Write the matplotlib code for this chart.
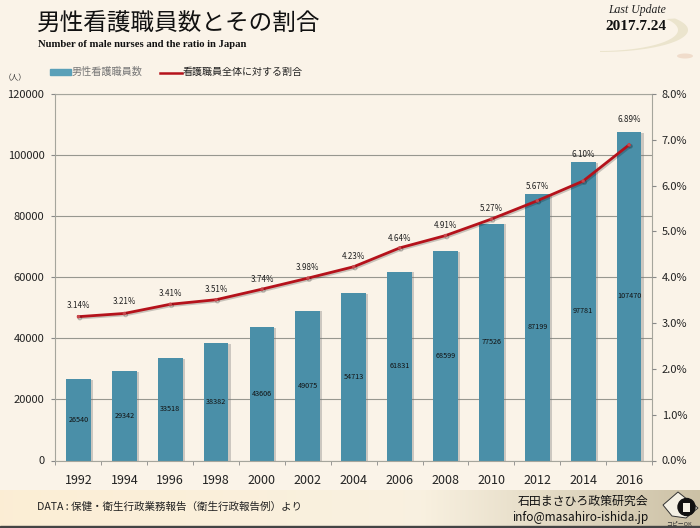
import numpy as np
import matplotlib
matplotlib.use("Agg")
import matplotlib.pyplot as plt
import matplotlib.patheffects as pe
from matplotlib.patches import Ellipse, Circle, Polygon, Rectangle

plt.rcParams['font.family'] = ['Noto Sans CJK JP', 'DejaVu Sans']

years = ["1992", "1994", "1996", "1998", "2000", "2002", "2004",
         "2006", "2008", "2010", "2012", "2014", "2016"]
nurses = [26540, 29342, 33518, 38382, 43606, 49075, 54713,
          61831, 68599, 77526, 87199, 97781, 107470]
ratio = [3.14, 3.21, 3.41, 3.51, 3.74, 3.98, 4.23,
         4.64, 4.91, 5.27, 5.67, 6.10, 6.89]
# how far each % label sits above the line, in points
label_lift = [8, 8.5, 7.5, 7.5, 7, 7.5, 7.5, 7, 7.5, 7.5, 10.5, 19, 18]

W, H = 700, 528
fig = plt.figure(figsize=(W / 100, H / 100), dpi=100, facecolor="#faf3e8")

# background, footer and swoosh are drawn in pixel coordinates
bg = fig.add_axes([0, 0, 1, 1], zorder=0)
grad = np.ones((1, 256, 3))
left_col = np.array([0.988, 0.933, 0.835])
mid_col = np.array([0.976, 0.945, 0.880])
right_col = np.array([0.800, 0.757, 0.650])
t = np.linspace(0, 1, 256)
for i in range(3):
    grad[0, :, i] = np.interp(t, [0, 0.6, 1], [left_col[i], mid_col[i], right_col[i]])
bg.imshow(grad, extent=[0, W, 526, 490], aspect="auto", zorder=1)
bg.set_xlim(0, W)
bg.set_ylim(H, 0)
bg.axis("off")
bg.add_patch(Rectangle((0, 526), W, 2, color="#444444", zorder=2))

# swoosh under the date
sw = np.linspace(-0.55, np.pi / 2, 60)
outer = np.c_[600 + 88 * np.cos(sw), 30 + 22 * np.sin(sw)]
inner = np.c_[600 + 78 * np.cos(sw), 30 + 21 * np.sin(sw)]
bg.add_patch(Polygon(np.r_[outer, inner[::-1]], color="#ebe4cd", lw=0, zorder=2))
bg.add_patch(Ellipse((685, 56), 16, 5, color="#f0dccb", lw=0, zorder=2))

# copy-ok logo
bg.add_patch(Polygon([[663, 505], [678, 492], [698, 508], [686, 518], [672, 516]],
                     facecolor="#f4f0e4", edgecolor="#333333", lw=0.7, zorder=3))
bg.add_patch(Circle((686.5, 507), 8.5, color="#111111", zorder=4))
bg.add_patch(Rectangle((683, 502.5), 7, 9, facecolor="#f4f0e4", edgecolor="none", zorder=5))
bg.text(679, 524, "コピーOK", fontsize=4.2, color="#333333", ha="center", va="center", zorder=5)

ax = fig.add_axes([55.5 / W, 1 - 460.5 / H, 596.5 / W, 366.5 / H], zorder=2)
ax.patch.set_alpha(0)
x = np.arange(len(years))
bars = ax.bar(x, nurses, width=0.54, color="#4a8fa8", zorder=2)
for b in bars:
    b.set_path_effects([pe.SimplePatchShadow(offset=(1.5, -0.5), shadow_rgbFace="#777777", alpha=0.35), pe.Normal()])
ax.set_xlim(-0.5, len(years) - 0.5)
ax.set_ylim(0, 120000)
ax.set_yticks(np.arange(0, 120001, 20000))
ax.set_xticks(x, years)
ax.set_xticks(np.arange(-0.5, len(years)), minor=True)
ax.tick_params(axis="x", which="major", length=0, labelsize=9, pad=10, colors="#222222")
ax.tick_params(axis="x", which="minor", length=3, color="#888888")
ax.tick_params(axis="y", length=3, labelsize=8, color="#888888", labelcolor="#222222", pad=5)
ax.grid(axis="y", color="#97978f", lw=0.8, zorder=1)
ax.set_axisbelow(True)
for s in ax.spines.values():
    s.set_color("#a5a59c")
    s.set_linewidth(0.8)

for xi, v in zip(x, nurses):
    ax.text(xi, v / 2, str(v), fontsize=5.2, color="#111111", ha="center", va="center", zorder=5)

ax2 = ax.twinx()
ax2.patch.set_alpha(0)
ax2.set_ylim(0, 8)
ax2.set_yticks(np.arange(0, 8.1, 1), [f"{v:.1f}%" for v in np.arange(0, 8.1, 1)])
ax2.tick_params(axis="y", length=3, labelsize=8, color="#888888", labelcolor="#222222", pad=4)
for s in ax2.spines.values():
    s.set_visible(False)
ax2.plot(x, ratio, color="#b5121b", lw=2, marker="o", ms=2.5, mfc="#c8474c", mec="none",
         solid_joinstyle="round", zorder=4,
         path_effects=[pe.SimpleLineShadow(offset=(1, -1), alpha=0.2), pe.Normal()])
for xi, r, lift in zip(x, ratio, label_lift):
    ax2.annotate(f"{r:.2f}%", (xi, r), xytext=(0, lift), textcoords="offset points", fontsize=5.8,
                 color="#222222", ha="center", va="center", zorder=5)

# titles
fig.text(37 / W, 1 - 24 / H, "男性看護職員数とその割合", fontsize=17, color="#111111", va="center")
fig.text(38 / W, 1 - 44.5 / H, "Number of male nurses and the ratio in Japan", fontsize=7.7,
         family="Liberation Serif", weight="bold", color="#111111", va="center")
fig.text(666 / W, 1 - 9.5 / H, "Last Update", fontsize=8.5, family="Liberation Serif", style="italic",
         color="#222222", ha="right", va="center")
fig.text(666 / W, 1 - 27 / H, "2017.7.24", fontsize=11, family="Liberation Serif", weight="bold",
         color="#111111", ha="right", va="center")
fig.text(15 / W, 1 - 78 / H, "（人）", fontsize=5.5, color="#333333", ha="center", va="center")

# legend laid out by hand like the slide
fig.add_artist(plt.Rectangle((50 / W, 1 - 74.5 / H), 21 / W, 5.5 / H, color="#5aa0b8", transform=fig.transFigure))
fig.text(72 / W, 1 - 72 / H, "男性看護職員数", fontsize=7.3, color="#777777", va="center")
fig.add_artist(plt.Line2D([160 / W, 182 / W], [1 - 72.5 / H] * 2, color="#b5121b", lw=1.8, transform=fig.transFigure))
fig.text(182.5 / W, 1 - 72 / H, "看護職員全体に対する割合", fontsize=7.2, color="#222222", va="center")

# footer
fig.text(37 / W, 1 - 507 / H, "DATA : 保健・衛生行政業務報告（衛生行政報告例）より", fontsize=7.6,
         color="#222222", va="center")
fig.text(648 / W, 1 - 501.5 / H, "石田まさひろ政策研究会", fontsize=8.6, color="#111111", ha="right", va="center")
fig.text(648 / W, 1 - 518 / H, "info@masahiro-ishida.jp", fontsize=8.5, color="#111111", ha="right", va="center")

fig.savefig("out.png", dpi=100, facecolor=fig.get_facecolor())
